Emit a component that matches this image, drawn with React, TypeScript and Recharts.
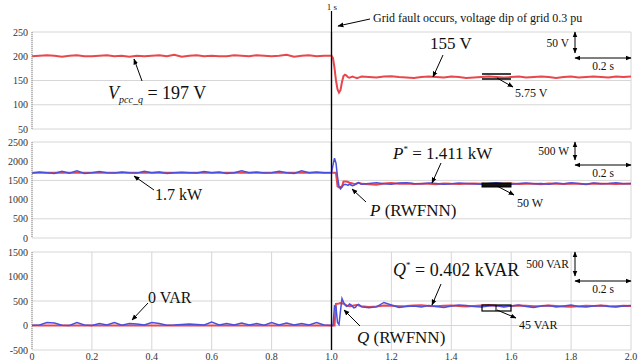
import React from 'react'
import { LineChart, Line, XAxis, YAxis, CartesianGrid, ReferenceLine } from 'recharts'

// time axis (s): coarse steps before/after the fault, fine steps across the transient
const times = [
  0, 0.025, 0.05, 0.075, 0.1, 0.125, 0.15, 0.175, 0.2, 0.225, 0.25, 0.275, 0.3, 0.325, 0.35, 0.375, 0.4, 0.425, 0.45, 0.475,
  0.5, 0.525, 0.55, 0.575, 0.6, 0.625, 0.65, 0.675, 0.7, 0.725, 0.75, 0.775, 0.8, 0.825, 0.85, 0.875, 0.9, 0.925, 0.95, 0.975,
  1.0, 1.005, 1.01, 1.015, 1.02, 1.025, 1.03, 1.035, 1.04, 1.045, 1.05, 1.055, 1.06, 1.065, 1.07, 1.075, 1.08, 1.085, 1.09, 1.095, 1.1,
  1.125, 1.15, 1.175, 1.2, 1.225, 1.25, 1.275, 1.3, 1.325, 1.35, 1.375, 1.4, 1.425, 1.45, 1.475, 1.5, 1.525, 1.55, 1.575,
  1.6, 1.625, 1.65, 1.675, 1.7, 1.725, 1.75, 1.775, 1.8, 1.825, 1.85, 1.875, 1.9, 1.925, 1.95, 1.975, 2.0,
]

const vPcc = [
  200, 201, 202, 201, 199, 201, 202, 200, 200, 201, 202, 200, 201, 199, 201, 200, 201, 202, 200, 203,
  199, 201, 202, 200, 201, 200, 200, 202, 201, 200, 202, 201, 200, 201, 203, 199, 201, 202, 200, 201,
  201, 196, 176, 150, 132, 125, 130, 147, 159, 162, 160, 157, 156, 157, 158, 157, 156, 155, 156, 157, 158,
  157, 156, 158, 159, 157, 156, 155, 157, 158, 157, 156, 158, 157, 155, 156, 157, 158, 157, 156, 157,
  158, 156, 157, 158, 157, 155, 157, 158, 156, 157, 158, 157, 156, 158, 157, 158,
]

const pRef = [
  1702, 1700, 1698, 1701, 1703, 1699, 1700, 1702, 1698, 1700, 1701, 1699, 1702, 1700, 1698, 1701, 1700, 1703, 1699, 1700,
  1702, 1698, 1700, 1701, 1699, 1700, 1702, 1700, 1698, 1701, 1700, 1702, 1699, 1700, 1701, 1698, 1700, 1702, 1700, 1701,
  1700, 1700, 1700, 1700, 1350, 1320, 1330, 1340, 1470, 1470, 1470, 1460, 1440, 1430, 1420, 1410, 1400, 1420, 1440, 1430, 1410,
  1400, 1390, 1420, 1430, 1410, 1420, 1405, 1415, 1410, 1400, 1420, 1410, 1405, 1415, 1420, 1410, 1400, 1415, 1410, 1420,
  1405, 1410, 1415, 1400, 1420, 1410, 1405, 1415, 1410, 1400, 1420, 1410, 1415, 1405, 1410, 1415,
]

const pRwfnn = [
  1690, 1720, 1700, 1680, 1740, 1690, 1750, 1680, 1700, 1730, 1700, 1690, 1720, 1700, 1690, 1740, 1700, 1720, 1680, 1700,
  1710, 1700, 1690, 1730, 1700, 1720, 1680, 1700, 1750, 1700, 1720, 1690, 1700, 1740, 1700, 1680, 1750, 1700, 1720, 1700,
  1700, 1900, 2080, 1950, 1600, 1350, 1280, 1330, 1380, 1400, 1390, 1370, 1400, 1380, 1360, 1370, 1400, 1420, 1440, 1420, 1400,
  1420, 1440, 1410, 1400, 1430, 1440, 1420, 1410, 1430, 1420, 1400, 1410, 1430, 1420, 1410, 1400, 1420, 1440, 1410, 1400,
  1420, 1430, 1410, 1420, 1400, 1430, 1410, 1440, 1420, 1400, 1430, 1410, 1420, 1440, 1410, 1420,
]

const qRef = [
  0, 2, -1, 0, 1, -2, 0, 1, 0, -1, 2, 0, 0, 1, -1, 0, 2, 0, -1, 1,
  0, 0, -2, 1, 0, 1, 0, -1, 0, 2, 0, -1, 1, 0, 0, 2, -1, 0, 1, 0,
  0, 0, 0, 440, 445, 450, 460, 455, 445, 430, 410, 400, 395, 400, 405, 410, 415, 420, 410, 400, 395,
  380, 390, 410, 405, 395, 400, 410, 415, 400, 395, 405, 410, 400, 390, 400, 410, 420, 405, 395, 400,
  410, 405, 395, 400, 410, 400, 390, 385, 395, 405, 400, 410, 400, 395, 405, 400,
]

const qRwfnn = [
  5, 10, 60, 50, 5, 0, 60, 10, 0, 40, 10, 60, 5, 40, 30, 10, 60, 40, 5, 10,
  20, 30, 20, 10, 70, 10, 40, 10, 50, 10, 40, 5, 60, 10, 50, 10, 40, 10, 60, 10,
  0, 0, 400, 380, 60, 20, 300, 550, 480, 420, 390, 400, 440, 420, 390, 360, 370, 410, 430, 410, 380,
  360, 380, 470, 420, 370, 390, 400, 380, 410, 390, 370, 400, 420, 410, 390, 380, 400, 410, 380, 400,
  420, 390, 370, 400, 410, 380, 400, 420, 390, 380, 400, 410, 390, 380, 400, 410,
]

const xTicks = [0, 0.2, 0.4, 0.6, 0.8, 1.0, 1.2, 1.4, 1.6, 1.8, 2.0]
const vTicks = [50, 100, 150, 200, 250]
const pTicks = [0, 500, 1000, 1500, 2000, 2500]
const qTicks = [-500, 0, 500, 1000, 1500]

const rows = times.map((t, i) => ({
  t, v: vPcc[i], pRef: pRef[i], p: pRwfnn[i], qRef: qRef[i], q: qRwfnn[i],
}))

const W = 639
const RED = '#e8474c'
const BLUE = '#4b4fe0'
const GRID = '#d6d6d6'
const SERIF = "'Liberation Serif', 'DejaVu Serif', serif"
const tickStyle = { fill: '#333', fontSize: 10, style: { fontFamily: SERIF } }

function Panel({ top, height, ticks, domain, bottomAxis, children }: any) {
  return (
    <div style={{ position: 'absolute', left: 0, top }}>
      <LineChart width={W} height={height} data={rows} margin={{ top: 6, right: 8, left: 0, bottom: bottomAxis ? 0 : 6 }}>
        <CartesianGrid stroke={GRID} strokeWidth={1} />
        <XAxis
          dataKey="t" type="number" domain={[0, 2]} ticks={xTicks}
          tick={bottomAxis ? tickStyle : false} height={bottomAxis ? 12 : 0}
          axisLine={false} tickLine={false} tickSize={2} tickMargin={1}
          tickFormatter={(v: number) => (v === 0 ? '0' : v.toFixed(1))}
          allowDataOverflow
        />
        <YAxis
          width={32} domain={domain} ticks={ticks} tick={tickStyle}
          tickLine={false} tickSize={2} tickMargin={2}
          axisLine={{ stroke: '#8a8a8a', strokeDasharray: '1 1' }}
          allowDataOverflow
        />
        <ReferenceLine x={1} stroke="#000" strokeWidth={1.2} />
        {children}
      </LineChart>
    </div>
  )
}

function Arrow({ x1, y1, x2, y2, both }: any) {
  return (
    <line x1={x1} y1={y1} x2={x2} y2={y2} stroke="#000" strokeWidth={1}
      markerEnd="url(#ah)" markerStart={both ? 'url(#ahs)' : undefined} />
  )
}

function ScaleBar({ y0, y1, label, labelX }: any) {
  return (
    <g>
      <Arrow x1={575} y1={y0} x2={575} y2={y1} both />
      <Arrow x1={575} y1={y1 + 5} x2={631} y2={y1 + 5} both />
      <text x={labelX} y={(y0 + y1) / 2 + 4} fontSize={11.5} textAnchor="end">{label}</text>
      <text x={603} y={y1 + 17} fontSize={11.5} textAnchor="middle">0.2 s</text>
    </g>
  )
}

export default function App() {
  return (
    <div style={{ position: 'absolute', left: 0, top: 0, width: W, height: 362, background: '#fff', overflow: 'hidden', fontFamily: SERIF }}>
      <Panel top={26} height={109} ticks={vTicks} domain={[50, 250]}>
        <Line dataKey="v" stroke={RED} strokeWidth={2} dot={false} isAnimationActive={false} />
      </Panel>
      <Panel top={136} height={108} ticks={pTicks} domain={[0, 2500]}>
        <Line dataKey="pRef" stroke={RED} strokeWidth={2} dot={false} isAnimationActive={false} />
        <Line dataKey="p" stroke={BLUE} strokeWidth={1.5} dot={false} isAnimationActive={false} />
      </Panel>
      <Panel top={246} height={116} ticks={qTicks} domain={[-500, 1500]} bottomAxis>
        <Line dataKey="qRef" stroke={RED} strokeWidth={2} dot={false} isAnimationActive={false} />
        <Line dataKey="q" stroke={BLUE} strokeWidth={1.5} dot={false} isAnimationActive={false} />
      </Panel>

      <svg width={W} height={362} style={{ position: 'absolute', left: 0, top: 0, pointerEvents: 'none', fontFamily: SERIF }}
        fill="#111">
        <defs>
          <marker id="ah" viewBox="0 0 10 10" refX="9" refY="5" markerWidth="6" markerHeight="6" orient="auto">
            <path d="M0,1 L10,5 L0,9 z" fill="#000" />
          </marker>
          <marker id="ahs" viewBox="0 0 10 10" refX="1" refY="5" markerWidth="6" markerHeight="6" orient="auto">
            <path d="M10,1 L0,5 L10,9 z" fill="#000" />
          </marker>
        </defs>

        {/* fault instant */}
        <line x1={331.5} y1={11} x2={331.5} y2={350} stroke="#000" strokeWidth={1.2} />
        <text x={332} y={10} fontSize={9} textAnchor="middle">1 s</text>
        <Arrow x1={370} y1={19} x2={338} y2={26} />
        <text x={373} y={22} fontSize={12}>Grid fault occurs, voltage dip of grid 0.3 pu</text>

        {/* voltage panel */}
        <text x={108} y={99} fontSize={18}>
          <tspan fontStyle="italic">V</tspan>
          <tspan fontStyle="italic" fontSize={10} dy={4}>pcc_q</tspan>
          <tspan dy={-4}> = 197 V</tspan>
        </text>
        <Arrow x1={142} y1={81} x2={134} y2={59} />
        <text x={430} y={49} fontSize={17}>155 V</text>
        <Arrow x1={443} y1={55} x2={433} y2={77} />
        <ScaleBar y0={32} y1={53} label="50 V" labelX={569} />
        <line x1={482} y1={74} x2={511} y2={74} stroke="#000" strokeWidth={1.5} />
        <line x1={482} y1={79} x2={511} y2={79} stroke="#000" strokeWidth={1.5} />
        <Arrow x1={497} y1={78} x2={513} y2={87} />
        <text x={515} y={97} fontSize={12}>5.75 V</text>

        {/* active power panel */}
        <text x={155} y={200} fontSize={16}>1.7 kW</text>
        <Arrow x1={154} y1={190} x2={134} y2={176} />
        <text x={393} y={159} fontSize={17}>
          <tspan fontStyle="italic">P</tspan>
          <tspan fontSize={9} dy={-7}>*</tspan>
          <tspan dy={7}> = 1.411 kW</tspan>
        </text>
        <Arrow x1={441} y1={163} x2={432} y2={183} />
        <ScaleBar y0={142} y1={160} label="500 W" labelX={569} />
        <rect x={482} y={183} width={29} height={4} fill="#111" stroke="#000" />
        <Arrow x1={497} y1={186} x2={514} y2={195} />
        <text x={517} y={207} fontSize={12}>50 W</text>
        <text x={370} y={216} fontSize={17}>
          <tspan fontStyle="italic">P</tspan>
          <tspan> (RWFNN)</tspan>
        </text>
        <Arrow x1={366} y1={202} x2={352} y2={189} />

        {/* reactive power panel */}
        <text x={148} y={303} fontSize={16}>0 VAR</text>
        <Arrow x1={148} y1={303} x2={132} y2={320} />
        <text x={393} y={276} fontSize={18}>
          <tspan fontStyle="italic">Q</tspan>
          <tspan fontSize={9} dy={-8}>*</tspan>
          <tspan dy={8}> = 0.402 kVAR</tspan>
        </text>
        <Arrow x1={441} y1={284} x2={432} y2={305} />
        <ScaleBar y0={252} y1={276} label="500 VAR" labelX={569} />
        <rect x={482} y={305} width={29} height={6} fill="none" stroke="#000" strokeWidth={1.2} />
        <line x1={496} y1={305} x2={496} y2={311} stroke="#000" />
        <Arrow x1={497} y1={310} x2={516} y2={318} />
        <text x={519} y={329} fontSize={12}>45 VAR</text>
        <text x={357} y={343} fontSize={17}>
          <tspan fontStyle="italic">Q</tspan>
          <tspan> (RWFNN)</tspan>
        </text>
        <Arrow x1={360} y1={326} x2={344} y2={310} />
      </svg>
    </div>
  )
}
